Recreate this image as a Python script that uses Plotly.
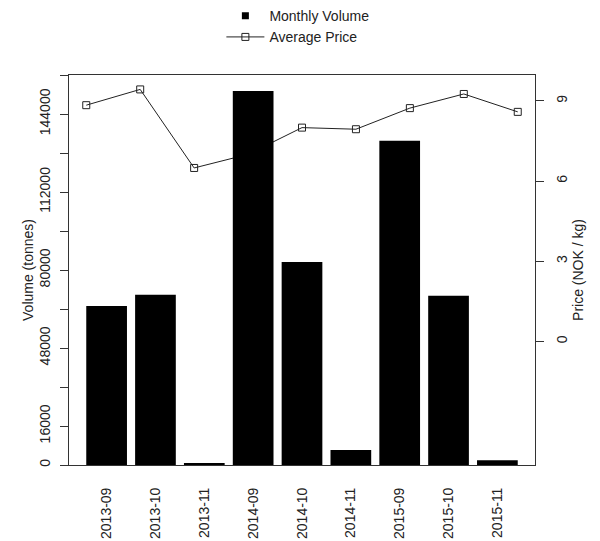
import plotly.graph_objects as go

# ---- data ----
months = ["2013-09", "2013-10", "2013-11", "2014-09", "2014-10",
          "2014-11", "2015-09", "2015-10", "2015-11"]
volume = [65200, 69800, 700, 153400, 83300, 6200, 133000, 69400, 1900]
price = [8.84, 9.43, 6.49, 7.00, 8.00, 7.94, 8.73, 9.26, 8.59]

vol_ticks = list(range(0, 160001, 16000))
vol_labels = ["0", "16000", "", "48000", "", "80000", "", "112000", "", "144000", ""]
price_ticks = [0, 3, 6, 9]

# R barplot style positions (width 1, space 0.2) and plain 1..n for the line
bar_pos = [0.7 + 1.2 * i for i in range(len(months))]
line_pos = [i + 1 for i in range(len(months))]

FONT = "Liberation Sans, Arial, sans-serif"
TXT = "#222222"
LINE = "#333333"
FS = 14

fig = go.Figure()

# legend-only entry for the volume (filled square)
fig.add_trace(go.Scatter(
    x=[None], y=[None], mode="markers", name="Monthly Volume",
    marker=dict(symbol="square", size=7, color="black"),
    xaxis="x", yaxis="y"))

# price line (drawn underneath the bars)
fig.add_trace(go.Scatter(
    x=line_pos, y=price, mode="lines+markers", name="Average Price",
    line=dict(color="#222222", width=1),
    marker=dict(symbol="square-open", size=7, color="#222222", line=dict(width=1)),
    xaxis="x", yaxis="y"))

# volume bars on the overlaying axes (drawn on top)
fig.add_trace(go.Bar(
    x=bar_pos, y=volume, width=1.0, marker=dict(color="black", line=dict(width=0)),
    showlegend=False, xaxis="x2", yaxis="y2"))

# page body has an 8px default margin, so the figure is sized/offset for it
fig.update_layout(
    width=592, height=533,
    margin=dict(l=61, r=65, t=67, b=76, autoexpand=False),
    paper_bgcolor="white", plot_bgcolor="white",
    font=dict(family=FONT, size=FS, color=TXT),
    showlegend=True,
    legend=dict(x=0.327, xanchor="left", y=1.192, yanchor="top",
                font=dict(family=FONT, size=FS, color=TXT),
                itemwidth=38, tracegroupgap=0, bgcolor="rgba(0,0,0,0)"),
    xaxis=dict(range=[0.68, 9.32], visible=False, showgrid=False, zeroline=False,
               automargin=False),
    yaxis=dict(side="right", range=[-4.63, 9.97], tickvals=price_ticks,
               ticks="outside", ticklen=8, tickcolor=LINE, tickangle=-90,
               showgrid=False, zeroline=False, showline=True, linecolor=LINE,
               linewidth=1, automargin=False, ticklabelstandoff=6,
               title=dict(text="Price (NOK / kg)", standoff=4,
                          font=dict(size=FS, color=TXT)),
               tickfont=dict(size=FS, color=TXT)),
    xaxis2=dict(overlaying="x", anchor="y2", range=[-0.224, 11.224],
                tickvals=bar_pos, ticktext=months, tickangle=-90,
                ticks="", showgrid=False, zeroline=False, automargin=False,
                showline=True, mirror=True, linecolor=LINE, linewidth=1,
                ticklabelstandoff=16, tickfont=dict(size=FS, color=TXT)),
    yaxis2=dict(overlaying="y", anchor="x2", side="left", range=[0, 160000],
                tickvals=vol_ticks, ticktext=vol_labels, tickangle=-90,
                ticks="outside", ticklen=8, tickcolor=LINE, automargin=False,
                showgrid=False, zeroline=False, showline=True, linecolor=LINE,
                linewidth=1, ticklabelstandoff=4,
                title=dict(text="Volume (tonnes)", standoff=0,
                           font=dict(size=FS, color=TXT)),
                tickfont=dict(size=FS, color=TXT)),
)

fig.write_html("out.html")
